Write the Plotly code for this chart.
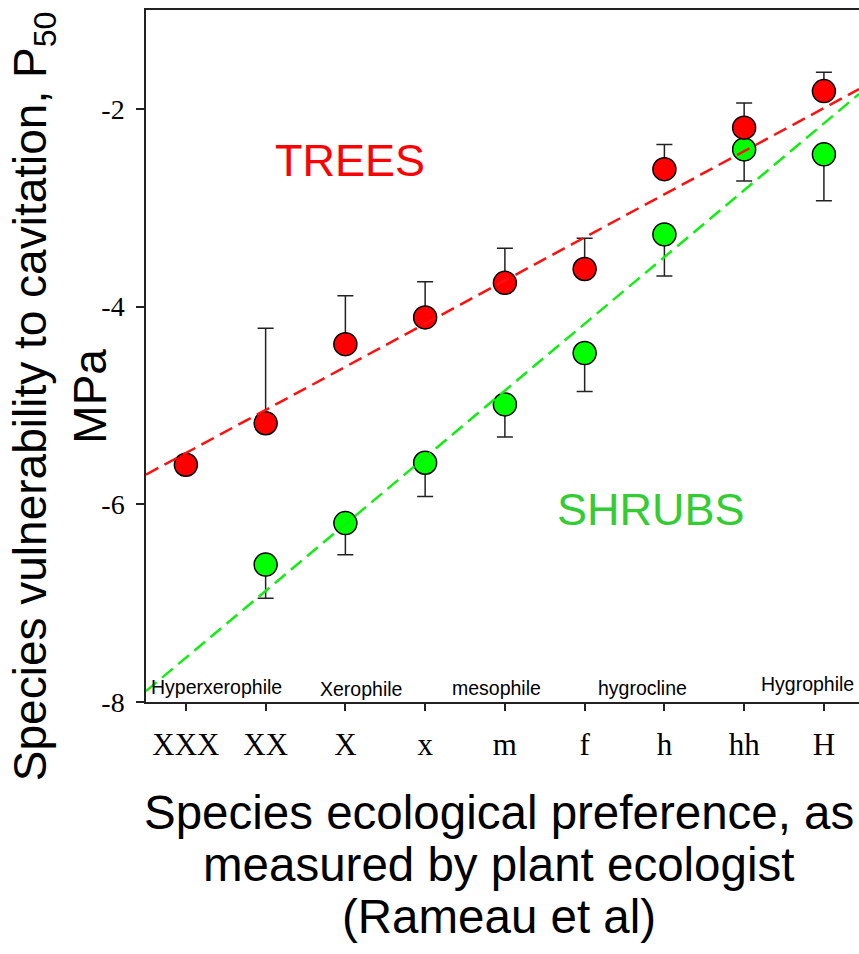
import plotly.graph_objects as go

# Ecological preference classes (Rameau et al), driest to wettest
categories = ["XXX", "XX", "X", "x", "m", "f", "h", "hh", "H"]
positions = list(range(1, 10))

# P50 (MPa) with one-sided error bars
trees_p50 = [-5.60, -5.18, -4.38, -4.11, -3.76, -3.62, -2.61, -2.19, -1.82]
trees_err = [0.0, 0.96, 0.49, 0.36, 0.35, 0.31, 0.25, 0.25, 0.19]

shrubs_p50 = [None, -6.61, -6.19, -5.58, -4.99, -4.47, -3.27, -2.41, -2.46]
shrubs_err = [0.0, 0.34, 0.32, 0.34, 0.33, 0.39, 0.42, 0.32, 0.47]

# regression lines, read at both ends of the axis
fit_x = [0.5, 9.44]
trees_fit = [-5.70, -1.80]
shrubs_fit = [-7.89, -1.85]

y_ticks = [-8, -6, -4, -2]
y_tick_labels = ["-8", "-6", "-4", "-2"]

zone_names = ["Hyperxerophile", "Xerophile", "mesophile", "hygrocline", "Hygrophile"]

AXIS = "#222222"
SERIF = "Liberation Serif, Times New Roman, serif"
SANS = "Liberation Sans, Arial, sans-serif"
zeros = [0.0] * len(categories)

fig = go.Figure()

# Shrubs (error bars downwards)
fig.add_trace(
    go.Scatter(
        x=positions,
        y=shrubs_p50,
        mode="markers",
        marker=dict(size=23, color="#00ff00", line=dict(color="black", width=1.5)),
        error_y=dict(
            type="data",
            symmetric=False,
            array=zeros,
            arrayminus=shrubs_err,
            color=AXIS,
            thickness=1.5,
            width=8,
        ),
        showlegend=False,
    )
)

# Trees (error bars upwards)
fig.add_trace(
    go.Scatter(
        x=positions,
        y=trees_p50,
        mode="markers",
        marker=dict(size=23, color="#ff0000", line=dict(color="black", width=1.5)),
        error_y=dict(
            type="data",
            symmetric=False,
            array=trees_err,
            arrayminus=zeros,
            color=AXIS,
            thickness=1.5,
            width=8,
        ),
        showlegend=False,
    )
)

# Dashed regression lines
fig.add_trace(
    go.Scatter(
        x=fit_x, y=trees_fit, mode="lines",
        line=dict(color="#ff1010", width=2.5, dash="14px,7px"),
        showlegend=False,
    )
)
fig.add_trace(
    go.Scatter(
        x=fit_x, y=shrubs_fit, mode="lines",
        line=dict(color="#11ee11", width=2.5, dash="14px,7px"),
        showlegend=False,
    )
)

# Group labels
annotations = [
    dict(x=3.06, y=-2.52, text="TREES", font=dict(family=SANS, size=45, color="#ff0000")),
    dict(x=6.83, y=-6.05, text="SHRUBS", font=dict(family=SANS, size=45, color="#33cc33")),
]

# Zone names along the bottom of the plot
for name, zx, zy in zip(zone_names, [1.39, 3.20, 4.89, 6.72, 8.80], [-7.85, -7.87, -7.86, -7.86, -7.82]):
    annotations.append(
        dict(x=zx, y=zy, text=name, font=dict(family=SANS, size=19.5, color="black"))
    )

for ann in annotations:
    ann.update(xref="x", yref="y", showarrow=False, xanchor="center", yanchor="middle")

# Y axis title (two lines, rotated)
annotations.append(
    dict(
        xref="paper", yref="paper", x=-0.1206, y=0.442,
        text="Species vulnerability to cavitation, P<sub>50</sub><br>MPa",
        textangle=-90, showarrow=False, align="center",
        xanchor="center", yanchor="middle",
        font=dict(family=SANS, size=46, color="black"),
    )
)

# X axis title, one annotation per line to keep the tight line spacing
x_title = [
    "Species ecological preference, as",
    "measured by plant ecologist",
    "(Rameau et al)",
]
for line, shift in zip(x_title, [-110, -162, -214]):
    annotations.append(
        dict(
            xref="paper", yref="paper", x=0.495, y=0, yshift=shift,
            text=line, showarrow=False, xanchor="center", yanchor="middle",
            font=dict(family=SANS, size=47.5, color="black"),
        )
    )

fig.update_layout(
    width=859,
    height=954,
    margin=dict(l=146, r=0, t=10, b=252),
    plot_bgcolor="white",
    paper_bgcolor="white",
    annotations=annotations,
    xaxis=dict(
        range=[0.5, 9.44],
        tickvals=positions,
        ticktext=categories,
        ticks="outside",
        ticklen=7,
        tickwidth=1.5,
        tickcolor=AXIS,
        showline=True,
        mirror=True,
        linecolor=AXIS,
        linewidth=1.5,
        showgrid=False,
        zeroline=False,
        tickfont=dict(family=SERIF, size=31, color="black"),
        ticklabelstandoff=7,
    ),
    yaxis=dict(
        range=[-8, -1.0],
        tickvals=y_ticks,
        ticktext=y_tick_labels,
        ticks="outside",
        ticklen=8,
        tickwidth=1.5,
        tickcolor=AXIS,
        showline=True,
        linecolor=AXIS,
        linewidth=1.5,
        showgrid=False,
        zeroline=False,
        tickfont=dict(family=SERIF, size=28, color="black"),
        ticklabelstandoff=6,
    ),
)

# drop the default body margin so the figure fills the window exactly
fig.write_html(
    "out.html",
    config={"displayModeBar": False},
    post_script="document.body.style.margin = '0';",
)
